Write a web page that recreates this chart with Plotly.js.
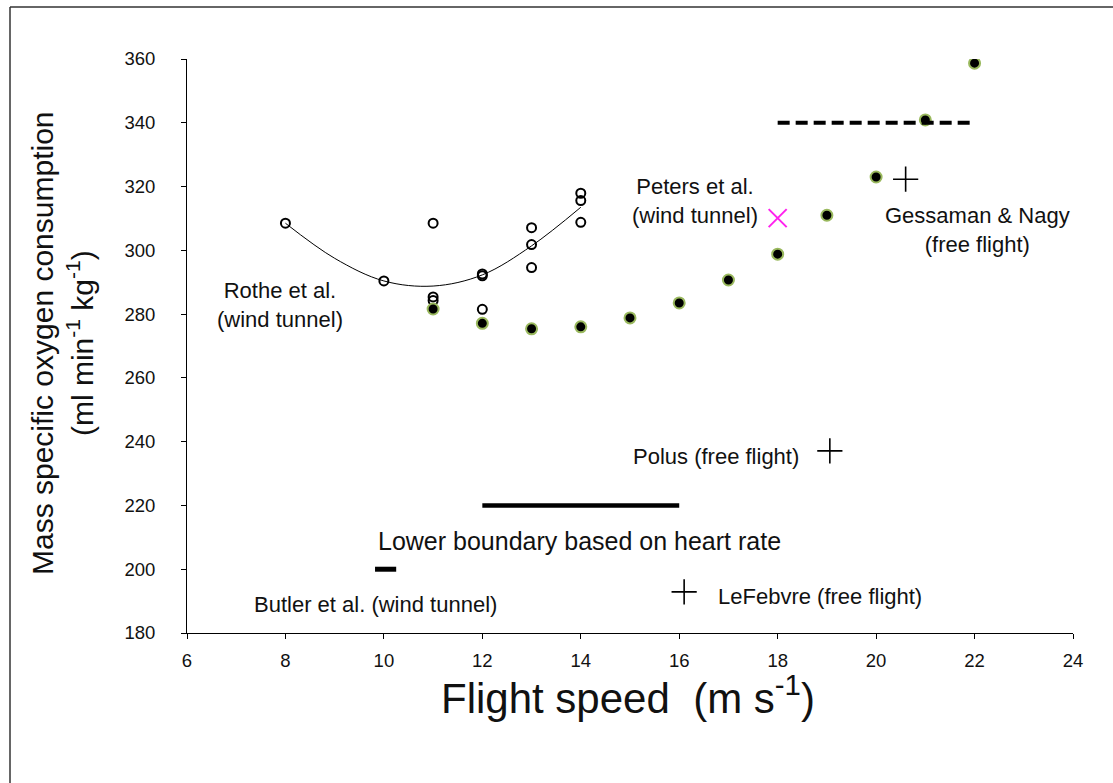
<!DOCTYPE html>
<html>
<head>
<meta charset="utf-8">
<script src="https://cdn.plot.ly/plotly-3.0.1.min.js"></script>
<style>
  html, body { margin: 0; padding: 0; background: #fff; }
  #chart { width: 1113px; height: 783px; }
</style>
</head>
<body>
<div id="chart"></div>
<script>
// Flight speed (m/s) and mass specific oxygen consumption (ml min-1 kg-1)

// Main series (filled dots)
const speedMain = [11, 12, 13, 14, 15, 16, 17, 18, 19, 20, 21, 22];
const vo2Main   = [281.6, 277.1, 275.4, 276.0, 278.8, 283.5, 290.7, 298.8, 311.0, 323.0, 340.9, 358.7];

// Rothe et al. (wind tunnel) – individual measurements
const speedRothe = [8, 10, 11, 11, 11, 12, 12, 12, 13, 13, 13, 14, 14, 14];
const vo2Rothe   = [308.5, 290.4, 308.5, 285.4, 284.3, 292.6, 292.0, 281.5, 307.1, 301.8, 294.6, 317.9, 315.6, 308.8];

// Rothe et al. – fitted curve
const speedRotheFit = [8, 9, 10, 11, 12, 13, 14];
const vo2RotheFit   = [308.5, 297.5, 290.4, 288.8, 292.3, 301.4, 313.5];

// Peters et al. (wind tunnel)
const speedPeters = [18.0];
const vo2Peters   = [310.1];

// Free flight estimates
const speedFree = [20.6, 19.06, 16.1];      // Gessaman & Nagy, Polus, LeFebvre
const vo2Free   = [322.3, 237.1, 192.9];

// Range bars
const speedUpperRange = [18, 22];
const vo2UpperRange   = [340, 340];
const speedHeartRate  = [12, 16];
const vo2HeartRate    = [220, 220];
const speedButler     = [9.82, 10.25];
const vo2Butler       = [200, 200];

// Axis ticks
const xTicks = [6, 8, 10, 12, 14, 16, 18, 20, 22, 24];
const yTicks = [180, 200, 220, 240, 260, 280, 300, 320, 340, 360];

const FONT = 'Liberation Sans, Arial, sans-serif';

const traces = [
  {
    x: speedRotheFit, y: vo2RotheFit, mode: 'lines', type: 'scatter',
    line: { color: '#000', width: 1, shape: 'spline', smoothing: 1.0 },
    hoverinfo: 'skip'
  },
  {
    x: speedRothe, y: vo2Rothe, mode: 'markers', type: 'scatter',
    marker: { symbol: 'circle-open', size: 9, color: '#000', line: { width: 2, color: '#000' } }
  },
  {
    x: speedMain, y: vo2Main, mode: 'markers', type: 'scatter',
    marker: { symbol: 'circle', size: 11, color: '#000', line: { width: 2, color: '#9ab95e' } }
  },
  {
    x: speedPeters, y: vo2Peters, mode: 'markers', type: 'scatter',
    marker: { symbol: 'x-thin', size: 18, color: '#ff22ee', line: { width: 2, color: '#ff22ee' } }
  },
  {
    x: speedFree, y: vo2Free, mode: 'markers', type: 'scatter',
    marker: { symbol: 'cross-thin', size: 18, color: '#000', line: { width: 1.6, color: '#000' } }
  },
  {
    x: speedUpperRange, y: vo2UpperRange, mode: 'lines', type: 'scatter',
    line: { color: '#000', width: 4, dash: '12px,6px' }
  },
  {
    x: speedHeartRate, y: vo2HeartRate, mode: 'lines', type: 'scatter',
    line: { color: '#000', width: 4.5 }
  },
  {
    x: speedButler, y: vo2Butler, mode: 'lines', type: 'scatter',
    line: { color: '#000', width: 5 }
  }
];

function label(text, x, y, size) {
  return {
    text: text, x: x, y: y, xref: 'x', yref: 'y',
    xanchor: 'center', yanchor: 'middle', showarrow: false,
    font: { family: FONT, size: size || 22, color: '#111' }
  };
}

function paperText(text, x, y, size, angle) {
  return {
    text: text, xref: 'paper', yref: 'paper', x: x, y: y,
    xanchor: 'center', yanchor: 'middle', textangle: angle || 0, showarrow: false,
    font: { family: FONT, size: size, color: '#111' }
  };
}

const annotations = [
  label('Rothe et al.<br>(wind tunnel)', 7.89, 282.9),
  label('Peters et al.<br>(wind tunnel)', 16.32, 315.5),
  label('Gessaman &amp; Nagy<br>(free flight)', 22.05, 306.4),
  label('Polus (free flight)', 16.75, 235.2),
  label('Lower boundary based on heart rate', 13.98, 208.8, 25),
  label('Butler et al. (wind tunnel)', 9.82, 188.8),
  label('LeFebvre (free flight)', 18.86, 191.3),
  // y-axis title, two lines
  paperText('Mass specific oxygen consumption', (42 - 187) / 886, 0.5052, 30, -90),
  paperText('(ml min<sup>-1</sup> kg<sup>-1</sup>)', (80 - 187) / 886, 0.5052, 30, -90),
  // x-axis title
  paperText('Flight speed  (m s<sup>-1</sup>)', 0.498, -0.108, 42, 0)
];

const layout = {
  width: 1113, height: 783,
  margin: { l: 187, r: 40, t: 59, b: 150, pad: 0 },
  paper_bgcolor: '#fff', plot_bgcolor: '#fff',
  showlegend: false,
  xaxis: {
    range: [6, 24], tickvals: xTicks, ticktext: xTicks.map(String),
    showgrid: false, zeroline: false, showline: true, linecolor: '#000', linewidth: 1,
    ticks: 'outside', ticklen: 5, tickcolor: '#000', tickwidth: 1,
    ticklabelstandoff: 6,
    tickfont: { family: FONT, size: 18.5, color: '#111' }
  },
  yaxis: {
    range: [180, 360], tickvals: yTicks, ticktext: yTicks.map(String),
    showgrid: false, zeroline: false, showline: true, linecolor: '#000', linewidth: 1,
    ticks: 'outside', ticklen: 5, tickcolor: '#000', tickwidth: 1,
    ticklabelstandoff: 22,
    tickfont: { family: FONT, size: 18.5, color: '#111' }
  },
  annotations: annotations,
  shapes: [
    // outer frame edges
    { type: 'line', xref: 'paper', yref: 'paper',
      x0: (10 - 187) / 886, x1: (10 - 187) / 886, y0: 1 + 52 / 574, y1: -150 / 574,
      line: { color: '#333', width: 1.5 } },
    { type: 'line', xref: 'paper', yref: 'paper',
      x0: (10 - 187) / 886, x1: (1113 - 187) / 886, y0: 1 + 52 / 574, y1: 1 + 52 / 574,
      line: { color: '#333', width: 1.5 } }
  ]
};

Plotly.newPlot('chart', traces, layout, { staticPlot: true, displayModeBar: false });
</script>
</body>
</html>
